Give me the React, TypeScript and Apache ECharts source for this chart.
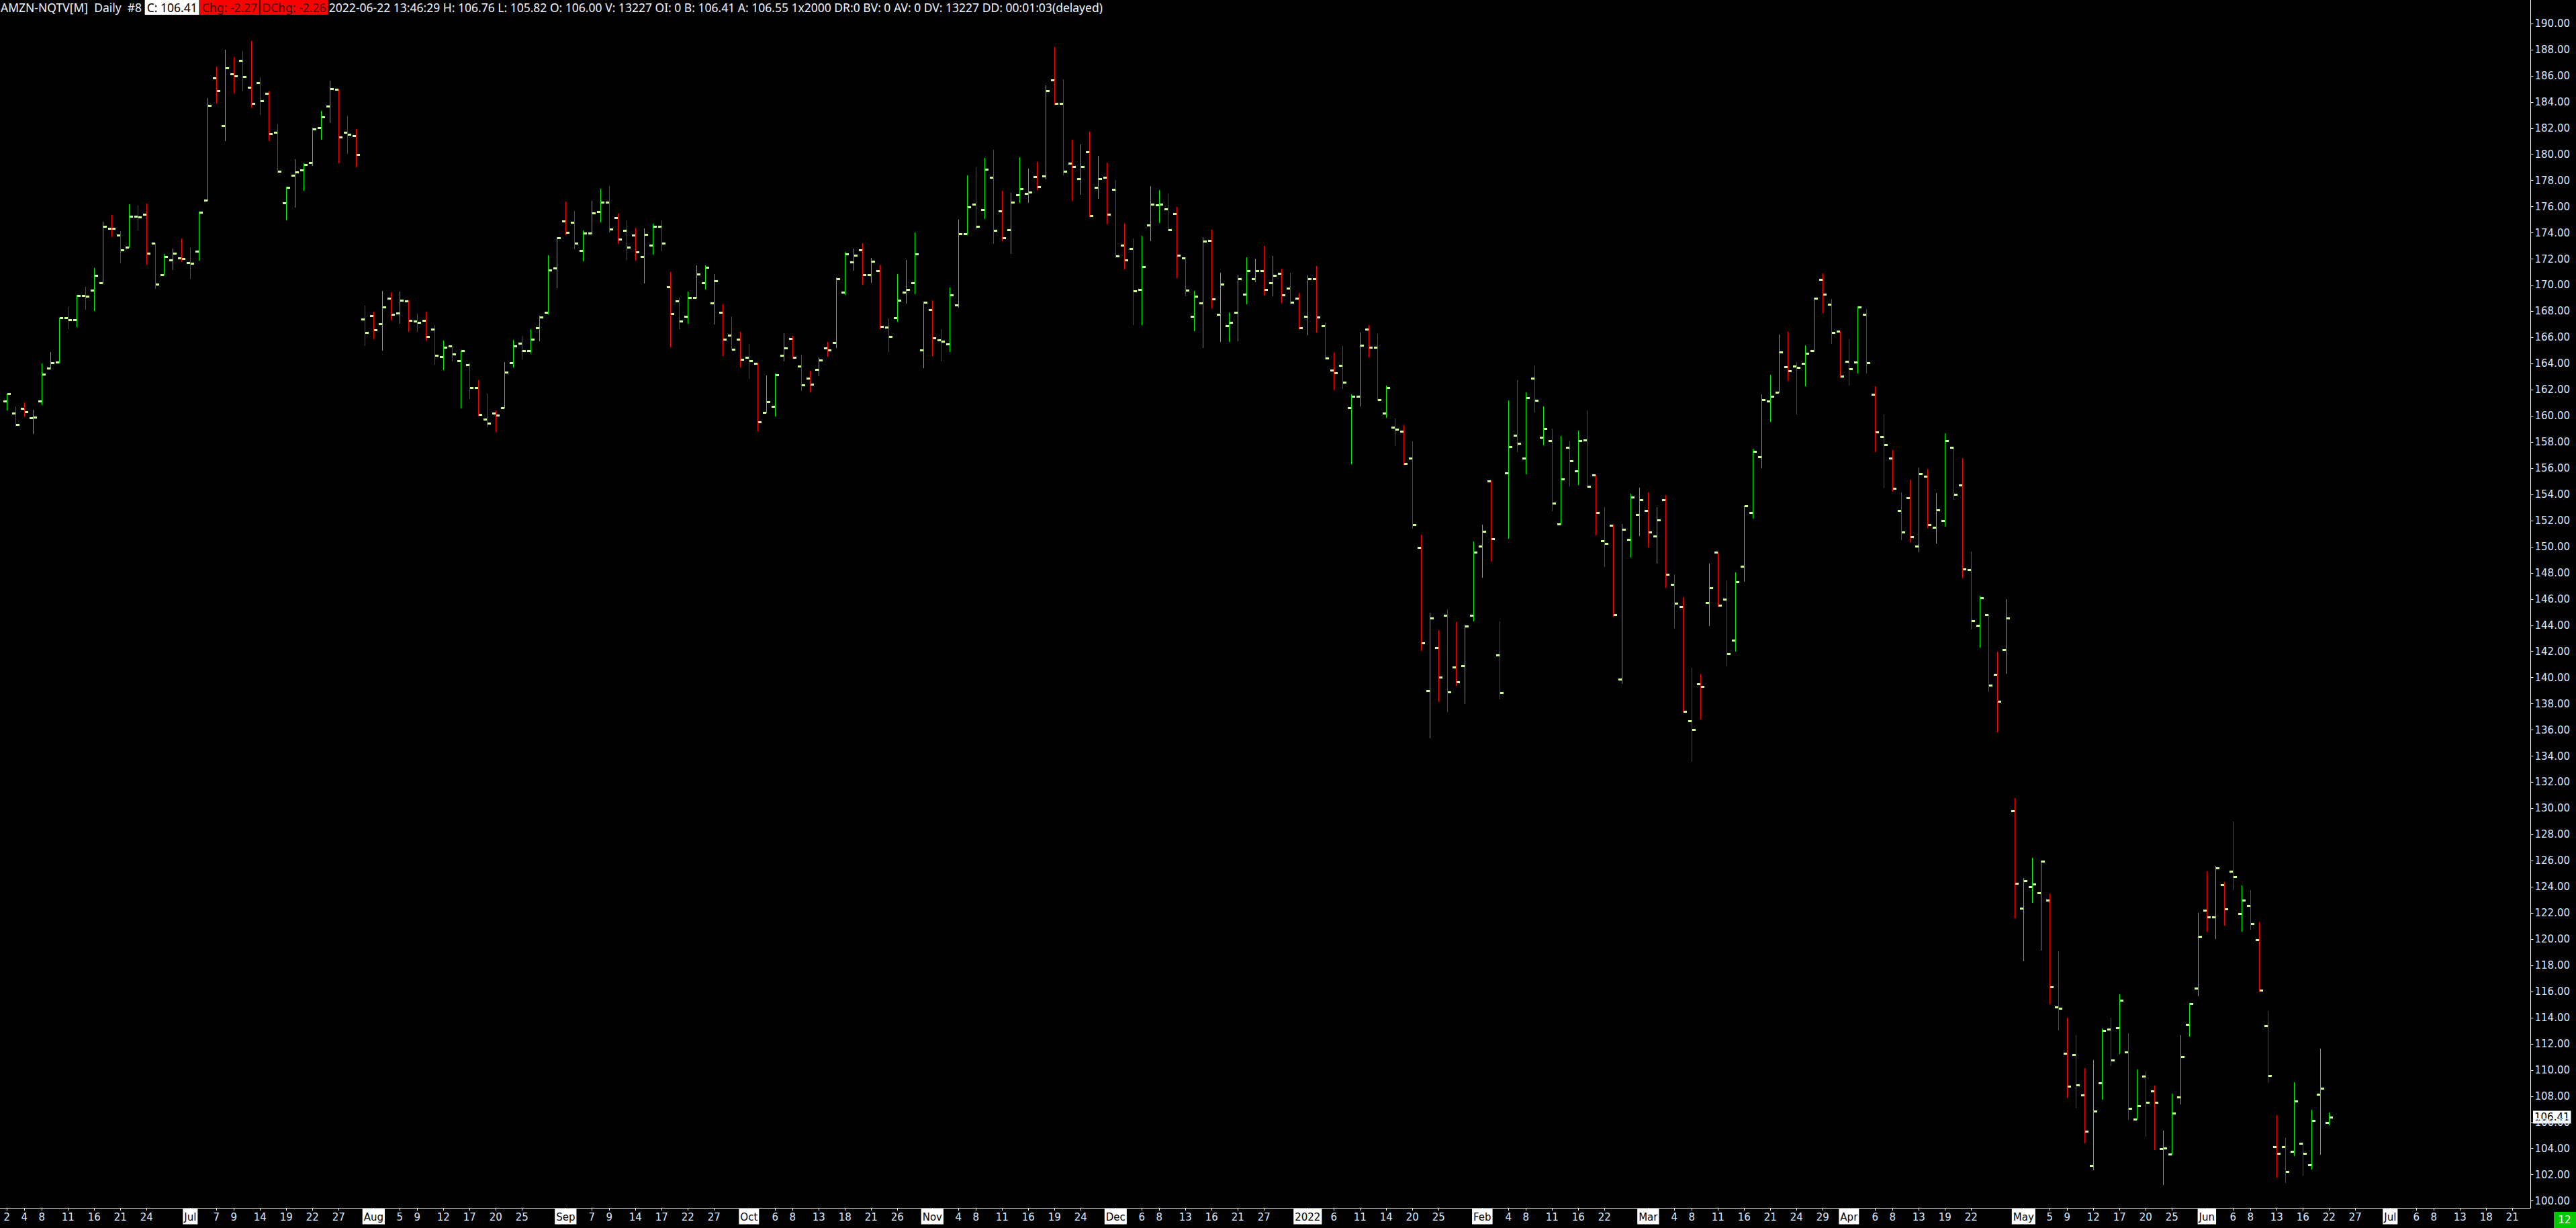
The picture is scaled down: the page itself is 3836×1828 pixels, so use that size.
import React, { useEffect, useRef } from "react";
import * as echarts from "echarts";

// ---- sessions (trading days shown on the axis, incl. future empty slots) ----
const sessionMonths = [
  "2021-06", "2021-07", "2021-08", "2021-09", "2021-10", "2021-11", "2021-12",
  "2022-01", "2022-02", "2022-03", "2022-04", "2022-05", "2022-06", "2022-07",
];
const sessionDays = [
  [2, 3, 4, 7, 8, 9, 10, 11, 14, 15, 16, 17, 18, 21, 22, 23, 24, 25, 28, 29, 30],
  [1, 2, 6, 7, 8, 9, 12, 13, 14, 15, 16, 19, 20, 21, 22, 23, 26, 27, 28, 29, 30],
  [2, 3, 4, 5, 6, 9, 10, 11, 12, 13, 16, 17, 18, 19, 20, 23, 24, 25, 26, 27, 30, 31],
  [1, 2, 3, 7, 8, 9, 10, 13, 14, 15, 16, 17, 20, 21, 22, 23, 24, 27, 28, 29, 30],
  [1, 4, 5, 6, 7, 8, 11, 12, 13, 14, 15, 18, 19, 20, 21, 22, 25, 26, 27, 28, 29],
  [1, 2, 3, 4, 5, 8, 9, 10, 11, 12, 15, 16, 17, 18, 19, 22, 23, 24, 26, 29, 30],
  [1, 2, 3, 6, 7, 8, 9, 10, 13, 14, 15, 16, 17, 20, 21, 22, 23, 27, 28, 29, 30, 31],
  [3, 4, 5, 6, 7, 10, 11, 12, 13, 14, 18, 19, 20, 21, 24, 25, 26, 27, 28, 31],
  [1, 2, 3, 4, 7, 8, 9, 10, 11, 14, 15, 16, 17, 18, 22, 23, 24, 25, 28],
  [1, 2, 3, 4, 7, 8, 9, 10, 11, 14, 15, 16, 17, 18, 21, 22, 23, 24, 25, 28, 29, 30, 31],
  [1, 4, 5, 6, 7, 8, 11, 12, 13, 14, 18, 19, 20, 21, 22, 25, 26, 27, 28, 29],
  [2, 3, 4, 5, 6, 9, 10, 11, 12, 13, 16, 17, 18, 19, 20, 23, 24, 25, 26, 27, 31],
  [1, 2, 3, 6, 7, 8, 9, 10, 13, 14, 15, 16, 17, 21, 22, 23, 24, 27, 28, 29, 30],
  [1, 4, 5, 6, 7, 8, 11, 12, 13, 14, 15, 18, 19, 20, 21, 22, 25],
];

// ---- OHLC values (daily bars, Jun 2 2021 .. Jun 22 2022) ----
const opens = [
  161.14, 160.22, 160.57, 159.87, 161.14, 163.65, 164.11, 167.5, 167.35, 169.19,
  169.6, 170.17, 174.34, 173.81, 172.88, 175.26, 175.4, 173.2, 170.78, 171.92,
  172.08, 171.72, 172.59, 176.48, 185.86, 182.17, 186.14, 187.2, 185.1, 185.47,
  184.68, 181.66, 176.28, 178.38, 178.83, 179.36, 182.03, 183.66, 184.96, 181.68,
  181.42, 167.42, 167.68, 167.05, 169.02, 167.85, 168.77, 167.23, 167.28, 166.63,
  164.51, 165.33, 164.2, 163.89, 162.15, 159.73, 160.2, 160.61, 164.05, 165.54,
  164.97, 166.72, 167.9, 171.29, 174.89, 174.78, 172.63, 173.96, 175.6, 176.32,
  175.14, 174.17, 173.81, 172.16, 173.04, 174.47, 169.85, 168.77, 167.59, 169.03,
  170.16, 168.62, 167.9, 166.16, 165.85, 164.46, 164.0, 160.25, 160.71, 164.61,
  165.9, 163.79, 162.87, 163.53, 165.18, 165.59, 169.44, 171.75, 172.68, 170.78,
  171.08, 166.77, 167.49, 169.44, 170.16, 165.02, 168.11, 165.79, 165.48, 168.5,
  173.92, 176.21, 175.79, 178.22, 175.69, 174.26, 176.9, 177.01, 178.29, 178.36,
  185.69, 183.88, 179.3, 178.15, 180.17, 177.46, 178.22, 177.32, 173.05, 172.81,
  169.68, 174.61, 176.15, 175.83, 175.48, 172.08, 167.63, 168.64, 173.4, 167.77,
  166.9, 167.91, 169.3, 170.48, 171.11, 170.2, 170.9, 169.75, 168.99, 167.6,
  170.48, 166.9, 163.5, 163.88, 160.62, 161.52, 166.63, 165.27, 160.2, 159.13,
  158.85, 156.8, 149.96, 138.99, 142.29, 144.75, 140.83, 140.93, 144.75, 150.03,
  155.05, 141.75, 155.62, 158.54, 156.76, 162.91, 158.39, 158.13, 151.76, 157.61,
  155.82, 158.18, 155.51, 150.47, 151.66, 139.86, 150.57, 152.44, 152.75, 150.83,
  153.6, 147.13, 145.45, 136.68, 139.5, 145.71, 149.61, 145.97, 142.84, 148.53,
  152.64, 156.86, 161.15, 161.83, 163.74, 163.79, 164.03, 165.01, 170.42, 168.55,
  166.46, 164.18, 164.13, 167.78, 161.67, 158.44, 156.76, 152.75, 153.73, 150.03,
  155.41, 151.5, 152.02, 157.61, 154.74, 148.27, 144.0, 144.8, 140.22, 142.16,
  129.83, 122.38, 124.02, 123.57, 123.0, 114.84, 111.29, 111.18, 108.07, 102.7,
  109.03, 113.1, 113.25, 111.39, 106.26, 109.54, 108.41, 104.0, 103.58, 107.94,
  113.5, 116.27, 122.23, 121.68, 124.19, 125.21, 121.98, 122.6, 119.97, 113.4,
  104.15, 104.15, 103.79, 104.41, 102.77, 108.16, 106.0,
];
const highs = [
  161.73, 160.75, 161.06, 160.45, 164.0, 164.91, 167.52, 168.35, 169.25, 169.88,
  171.33, 174.87, 175.38, 174.12, 176.2, 176.1, 176.24, 173.22, 172.39, 172.8,
  173.57, 172.86, 175.63, 184.31, 186.73, 188.0, 187.43, 187.9, 188.67, 185.9,
  184.82, 182.31, 177.54, 179.64, 179.32, 182.05, 183.33, 185.65, 184.96, 182.92,
  181.95, 168.45, 167.99, 169.58, 169.47, 169.51, 168.82, 167.8, 167.97, 166.94,
  165.76, 165.37, 165.01, 164.07, 162.73, 161.7, 160.42, 164.12, 165.81, 166.12,
  166.63, 167.66, 172.28, 173.65, 176.39, 175.67, 174.17, 176.44, 177.37, 177.57,
  175.47, 174.95, 174.39, 174.34, 174.68, 174.95, 171.0, 169.06, 169.51, 171.51,
  171.51, 170.84, 168.53, 167.61, 166.43, 165.5, 164.07, 163.09, 163.24, 166.32,
  166.12, 164.68, 163.45, 164.48, 165.66, 170.57, 172.52, 172.8, 173.21, 172.06,
  171.56, 167.46, 170.84, 171.92, 174.01, 168.76, 168.84, 166.63, 169.82, 175.0,
  178.4, 179.02, 179.72, 180.34, 177.22, 177.08, 179.79, 178.92, 179.4, 185.27,
  188.19, 185.72, 181.1, 180.76, 181.73, 179.89, 179.37, 178.05, 174.68, 173.57,
  173.78, 177.56, 177.25, 177.01, 175.97, 172.15, 169.54, 173.67, 174.23, 170.93,
  167.91, 170.79, 172.11, 172.01, 173.01, 172.22, 171.24, 170.93, 169.4, 170.72,
  171.45, 167.15, 164.82, 165.34, 161.63, 166.38, 166.94, 166.28, 162.32, 159.79,
  159.3, 158.05, 150.9, 144.96, 143.64, 145.2, 144.27, 144.02, 150.41, 151.71,
  155.07, 144.29, 161.21, 162.71, 161.83, 163.85, 160.74, 159.01, 158.46, 158.05,
  158.88, 160.43, 155.51, 153.03, 151.68, 151.76, 154.04, 154.5, 154.14, 153.03,
  153.94, 147.91, 146.15, 140.74, 140.28, 148.71, 149.61, 147.44, 148.04, 153.15,
  157.48, 161.65, 163.15, 166.23, 166.43, 164.13, 165.4, 169.05, 170.88, 168.97,
  166.48, 165.86, 168.4, 168.17, 162.27, 160.12, 157.4, 154.17, 155.13, 156.06,
  155.95, 154.09, 158.67, 157.64, 156.78, 149.62, 146.23, 144.8, 141.96, 145.97,
  130.77, 124.66, 126.21, 126.0, 123.49, 119.06, 113.99, 112.65, 110.14, 110.75,
  113.18, 113.99, 115.78, 112.84, 110.03, 109.88, 108.79, 105.35, 108.18, 112.65,
  115.15, 122.0, 125.17, 125.6, 124.38, 128.98, 124.11, 123.74, 121.27, 114.52,
  106.54, 104.83, 109.05, 104.51, 106.94, 111.63, 106.76,
];
const lows = [
  160.47, 159.24, 159.98, 158.65, 160.9, 163.6, 164.05, 166.7, 166.84, 168.2,
  168.05, 170.17, 173.71, 171.74, 172.88, 174.22, 171.61, 169.76, 170.78, 171.2,
  171.8, 170.53, 171.9, 176.48, 183.94, 181.07, 184.72, 184.86, 183.58, 183.07,
  181.07, 178.58, 174.98, 175.97, 177.24, 179.15, 181.15, 182.43, 179.36, 180.11,
  179.05, 165.38, 165.91, 165.03, 167.35, 167.11, 166.5, 166.5, 165.83, 163.96,
  163.57, 164.24, 160.62, 161.36, 160.04, 159.19, 158.84, 160.61, 163.77, 164.39,
  164.84, 165.78, 167.83, 169.83, 173.86, 172.8, 171.89, 173.96, 174.85, 174.08,
  173.22, 171.99, 171.94, 170.18, 172.4, 172.64, 165.32, 166.7, 167.11, 169.03,
  169.71, 167.06, 164.61, 165.07, 163.77, 162.87, 158.89, 160.25, 160.0, 164.22,
  164.41, 161.98, 161.87, 163.11, 164.6, 165.26, 169.32, 171.15, 170.09, 170.25,
  166.67, 164.96, 167.27, 168.65, 169.37, 163.72, 164.65, 164.23, 164.92, 168.33,
  173.85, 174.3, 175.1, 173.19, 173.4, 172.42, 176.35, 176.35, 177.32, 178.12,
  183.85, 178.47, 176.49, 176.94, 175.24, 176.66, 174.68, 172.15, 171.28, 167.01,
  167.01, 173.43, 174.82, 174.18, 170.58, 169.2, 166.52, 165.27, 168.26, 165.69,
  165.69, 165.76, 168.57, 170.28, 169.27, 169.2, 168.67, 168.6, 166.7, 166.24,
  166.42, 164.38, 162.01, 162.11, 156.38, 160.76, 164.51, 161.18, 159.89, 157.74,
  156.31, 151.45, 142.11, 135.41, 138.19, 137.39, 139.4, 138.01, 144.37, 147.7,
  148.94, 138.39, 150.65, 157.27, 155.59, 160.33, 157.79, 152.77, 151.76, 154.66,
  154.76, 154.55, 150.91, 148.53, 144.72, 139.55, 149.23, 150.86, 150.0, 148.76,
  146.92, 143.82, 137.4, 133.6, 136.84, 144.0, 145.5, 140.9, 142.06, 147.36,
  152.2, 156.06, 159.6, 161.8, 162.73, 160.15, 162.32, 164.93, 167.91, 165.55,
  163.0, 162.37, 163.28, 163.3, 157.3, 154.56, 154.25, 150.57, 150.39, 149.64,
  151.5, 150.29, 151.58, 153.65, 147.62, 143.74, 142.37, 138.98, 135.85, 140.33,
  121.66, 118.36, 122.81, 119.16, 115.06, 113.08, 107.92, 107.18, 104.45, 102.38,
  107.79, 110.35, 111.26, 106.22, 106.22, 104.98, 103.92, 101.26, 103.56, 107.41,
  112.59, 115.69, 120.63, 120.06, 121.06, 123.83, 120.63, 120.78, 116.05, 109.09,
  101.81, 101.41, 103.49, 101.96, 102.47, 103.58, 105.82,
];
const closes = [
  161.71, 159.33, 160.32, 159.9, 163.18, 164.07, 167.5, 167.35, 169.19, 169.13,
  170.72, 174.47, 174.32, 172.69, 175.26, 175.2, 172.43, 170.08, 172.18, 172.43,
  172.02, 171.67, 175.55, 183.76, 184.84, 186.61, 185.98, 185.94, 183.88, 184.07,
  181.58, 178.68, 177.46, 178.64, 179.24, 181.93, 182.84, 185.02, 181.33, 181.52,
  179.99, 166.38, 166.6, 168.35, 167.78, 168.82, 167.28, 167.15, 166.05, 164.61,
  165.23, 164.72, 164.97, 162.15, 160.09, 159.43, 160.04, 163.33, 165.33, 164.97,
  165.85, 167.54, 171.14, 173.6, 174.01, 173.19, 173.96, 175.5, 176.32, 174.27,
  173.5, 172.88, 172.52, 173.86, 174.47, 173.19, 167.8, 167.23, 169.03, 170.83,
  171.34, 170.31, 165.85, 165.07, 164.31, 164.2, 159.53, 161.07, 163.12, 165.18,
  164.46, 162.35, 162.4, 164.25, 165.02, 170.47, 172.37, 172.27, 170.78, 171.8,
  166.82, 166.05, 168.83, 169.65, 172.37, 168.67, 165.95, 165.69, 169.23, 173.92,
  176.0, 174.47, 178.85, 174.16, 173.64, 176.35, 177.35, 177.11, 177.53, 184.85,
  183.88, 178.71, 179.06, 179.06, 175.31, 178.12, 175.41, 172.22, 171.94, 169.58,
  171.42, 176.21, 176.21, 174.23, 172.29, 169.61, 169.16, 173.36, 168.95, 170.1,
  167.15, 170.51, 171.11, 171.11, 169.68, 170.76, 169.23, 168.67, 166.76, 170.48,
  167.56, 164.44, 163.29, 162.56, 161.52, 165.38, 165.27, 161.24, 162.15, 158.99,
  156.35, 151.7, 142.63, 144.54, 140.03, 138.92, 139.65, 143.95, 149.58, 151.19,
  150.62, 138.83, 157.66, 157.92, 161.41, 161.21, 159.01, 153.31, 155.2, 156.55,
  158.13, 154.63, 152.64, 150.24, 144.83, 151.35, 153.81, 153.57, 151.14, 152.07,
  147.91, 145.66, 137.43, 136.01, 139.3, 146.85, 145.55, 141.85, 147.34, 153.11,
  157.27, 161.26, 161.52, 164.91, 163.43, 163.69, 164.8, 169.02, 169.33, 166.36,
  163.02, 163.59, 168.35, 164.08, 158.77, 157.82, 154.48, 151.14, 150.78, 155.57,
  151.71, 152.8, 158.13, 154.01, 148.32, 144.36, 146.07, 139.4, 138.18, 144.57,
  124.25, 124.49, 124.23, 125.94, 116.38, 114.74, 108.77, 108.84, 105.32, 106.88,
  113.03, 110.78, 115.35, 107.07, 107.28, 107.54, 107.54, 104.05, 106.73, 111.03,
  115.1, 120.19, 121.68, 125.47, 122.34, 124.77, 123.0, 121.17, 116.12, 109.6,
  103.64, 102.26, 107.64, 103.64, 106.16, 108.62, 106.41,
];

// ---- x-axis tick labels (date -> text) ----
const xTickLabels: [string, string][] = [
  ["2021-06-02", "2"], ["2021-06-04", "4"], ["2021-06-08", "8"], ["2021-06-11", "11"], ["2021-06-16", "16"], ["2021-06-21", "21"], ["2021-06-24", "24"],
  ["2021-07-01", "Jul"], ["2021-07-07", "7"], ["2021-07-09", "9"], ["2021-07-14", "14"], ["2021-07-19", "19"], ["2021-07-22", "22"], ["2021-07-27", "27"],
  ["2021-08-02", "Aug"], ["2021-08-05", "5"], ["2021-08-09", "9"], ["2021-08-12", "12"], ["2021-08-17", "17"], ["2021-08-20", "20"], ["2021-08-25", "25"],
  ["2021-09-01", "Sep"], ["2021-09-07", "7"], ["2021-09-09", "9"], ["2021-09-14", "14"], ["2021-09-17", "17"], ["2021-09-22", "22"], ["2021-09-27", "27"],
  ["2021-10-01", "Oct"], ["2021-10-06", "6"], ["2021-10-08", "8"], ["2021-10-13", "13"], ["2021-10-18", "18"], ["2021-10-21", "21"], ["2021-10-26", "26"],
  ["2021-11-01", "Nov"], ["2021-11-04", "4"], ["2021-11-08", "8"], ["2021-11-11", "11"], ["2021-11-16", "16"], ["2021-11-19", "19"], ["2021-11-24", "24"],
  ["2021-12-01", "Dec"], ["2021-12-06", "6"], ["2021-12-08", "8"], ["2021-12-13", "13"], ["2021-12-16", "16"], ["2021-12-21", "21"], ["2021-12-27", "27"],
  ["2022-01-03", "2022"], ["2022-01-06", "6"], ["2022-01-11", "11"], ["2022-01-14", "14"], ["2022-01-20", "20"], ["2022-01-25", "25"],
  ["2022-02-01", "Feb"], ["2022-02-04", "4"], ["2022-02-08", "8"], ["2022-02-11", "11"], ["2022-02-16", "16"], ["2022-02-22", "22"],
  ["2022-03-01", "Mar"], ["2022-03-04", "4"], ["2022-03-08", "8"], ["2022-03-11", "11"], ["2022-03-16", "16"], ["2022-03-21", "21"], ["2022-03-24", "24"], ["2022-03-29", "29"],
  ["2022-04-01", "Apr"], ["2022-04-06", "6"], ["2022-04-08", "8"], ["2022-04-13", "13"], ["2022-04-19", "19"], ["2022-04-22", "22"],
  ["2022-05-02", "May"], ["2022-05-05", "5"], ["2022-05-09", "9"], ["2022-05-12", "12"], ["2022-05-17", "17"], ["2022-05-20", "20"], ["2022-05-25", "25"],
  ["2022-06-01", "Jun"], ["2022-06-06", "6"], ["2022-06-08", "8"], ["2022-06-13", "13"], ["2022-06-16", "16"], ["2022-06-22", "22"], ["2022-06-27", "27"],
  ["2022-07-01", "Jul"], ["2022-07-06", "6"], ["2022-07-08", "8"], ["2022-07-13", "13"], ["2022-07-18", "18"], ["2022-07-21", "21"],
];

// ---- y-axis ----
const yMin = 100;
const yMax = 190;
const yInterval = 2;

// ---- header ----
const symbolText = "AMZN-NQTV[M]  Daily  #8 ";
const closeText = "C: 106.41";
const chgText = "Chg: -2.27";
const dchgText = "DChg: -2.26";
const infoText =
  "2022-06-22 13:46:29 H: 106.76 L: 105.82 O: 106.00 V: 13227 OI: 0 B: 106.41 A: 106.55 1x2000 DR:0 BV: 0 AV: 0 DV: 13227 DD: 00:01:03(delayed)";
const lastPrice = 106.41;
const barCountText = "12";

const W = 3836;
const H = 1828;
const GREEN = "#00f000";
const RED = "#ff0000";
const TICK = "#ccff99";
const LABEL = "#dbe9ff";
const AXIS_FONT = "DejaVu Sans";
const HEAD_FONT = "Noto Sans";
const HEAD_SIZE = 17.5;
const AXIS_X = 3768.5; // y-axis line
const AXIS_Y = 1798.5; // x-axis line

export default function App() {
  const ref = useRef<HTMLDivElement>(null);

  useEffect(() => {
    const el = ref.current;
    if (!el) return;
    const chart = echarts.init(el, undefined, { renderer: "svg" });

    const categories = sessionMonths.flatMap((m, k) =>
      sessionDays[k].map((d) => `${m}-${String(d).padStart(2, "0")}`)
    );
    const labelMap = new Map<string, string>(xTickLabels);
    const data = opens.map((o, i) => [i, o, highs[i], lows[i], closes[i]]);

    const gridLeft = 3.83;
    const gridRight = 62.17;
    const gridTop = 35;
    const gridBottom = 40.4;

    chart.setOption({
      animation: false,
      backgroundColor: "#000",
      grid: { left: gridLeft, right: gridRight, top: gridTop, bottom: gridBottom, containLabel: false },
      xAxis: {
        type: "category",
        data: categories,
        boundaryGap: true,
        offset: 10.4,
        axisLine: { show: false },
        axisTick: {
          show: true,
          alignWithLabel: true,
          length: 4,
          interval: (idx: number, val: string) => labelMap.has(val),
          lineStyle: { color: "#ffffff", width: 1 },
        },
        axisLabel: {
          show: true,
          margin: 4,
          interval: (idx: number, val: string) => labelMap.has(val),
          hideOverlap: false,
          formatter: (val: string) => {
            const t = labelMap.get(val);
            if (!t) return "";
            return /^\d{1,2}$/.test(t) ? `{d|${t}}` : `{m|${t}}`;
          },
          rich: {
            d: { color: LABEL, fontFamily: AXIS_FONT, fontSize: 15, lineHeight: 18, padding: [5, 1, 3, 1] },
            m: {
              color: "#000",
              backgroundColor: "#ffffff",
              fontFamily: AXIS_FONT,
              fontSize: 15,
              lineHeight: 18,
              padding: [5, 2, 3, 2],
            },
          },
        },
        splitLine: { show: false },
      },
      yAxis: {
        type: "value",
        position: "right",
        min: yMin,
        max: yMax,
        interval: yInterval,
        offset: -(W - gridRight - AXIS_X),
        axisLine: { show: false },
        axisTick: { show: true, length: 4, lineStyle: { color: "#ffffff" } },
        axisLabel: {
          margin: 6,
          color: LABEL,
          fontFamily: AXIS_FONT,
          fontSize: 15,
          formatter: (v: number) => v.toFixed(2),
        },
        splitLine: { show: false },
      },
      series: [
        {
          type: "custom",
          data,
          encode: { x: 0, y: [1, 2, 3, 4] },
          renderItem: (params: any, api: any) => {
            const i = api.value(0);
            const o = api.value(1);
            const h = api.value(2);
            const l = api.value(3);
            const c = api.value(4);
            const pH = api.coord([i, h]);
            const pL = api.coord([i, l]);
            const pO = api.coord([i, o]);
            const pC = api.coord([i, c]);
            const x = Math.round(pH[0]) + 0.5;
            const color = c >= o ? GREEN : RED;
            return {
              type: "group",
              children: [
                {
                  type: "line",
                  shape: { x1: x, y1: Math.round(pH[1]), x2: x, y2: Math.round(pL[1]) + 1 },
                  style: { stroke: color, lineWidth: 1 },
                },
                {
                  type: "rect",
                  shape: { x: x - 5.5, y: Math.round(pO[1]) - 1, width: 5, height: 3 },
                  style: { fill: TICK },
                },
                {
                  type: "rect",
                  shape: { x: x + 0.5, y: Math.round(pC[1]) - 1, width: 5, height: 3 },
                  style: { fill: TICK },
                },
              ],
            };
          },
        },
      ],
    });

    const yLast = chart.convertToPixel({ yAxisIndex: 0 }, lastPrice) as number;

    chart.setOption({
      graphic: [
        {
          type: "line",
          shape: { x1: 0, y1: AXIS_Y, x2: AXIS_X, y2: AXIS_Y },
          style: { stroke: "#ffffff", lineWidth: 1 },
        },
        {
          type: "line",
          shape: { x1: AXIS_X, y1: 0, x2: AXIS_X, y2: AXIS_Y },
          style: { stroke: "#ffffff", lineWidth: 1 },
        },
        {
          type: "text",
          x: 1,
          y: 1,
          style: {
            text:
              `{t|${symbolText}}{w|${closeText}}{g| }{r|${chgText}}{g| }{r|${dchgText}}{g| }{t|${infoText}}`,
            verticalAlign: "top",
            rich: {
              t: { fill: "#f0f4ff", fontFamily: HEAD_FONT, fontSize: HEAD_SIZE, lineHeight: 20, padding: [2, 0, 2, 0] },
              w: {
                fill: "#000000",
                backgroundColor: "#ffffff",
                fontFamily: HEAD_FONT,
                fontSize: HEAD_SIZE,
                lineHeight: 20,
                padding: [2, 3, 2, 3],
              },
              r: {
                fill: "#3a0000",
                backgroundColor: "#ff0000",
                fontFamily: HEAD_FONT,
                fontSize: HEAD_SIZE,
                lineHeight: 20,
                padding: [2, 3, 2, 3],
              },
              g: { fontFamily: HEAD_FONT, fontSize: 5, lineHeight: 20, fill: "#000" },
            },
          },
        },
        {
          type: "text",
          x: 3772,
          y: Math.round(yLast),
          style: {
            text: lastPrice.toFixed(2),
            fill: "#000000",
            backgroundColor: "#ffffff",
            fontFamily: AXIS_FONT,
            fontSize: 15,
            verticalAlign: "middle",
            padding: [2, 2, 2, 2],
          },
        },
        {
          type: "rect",
          shape: { x: 3803, y: 1804, width: 33, height: 24 },
          style: { fill: "#00c800" },
        },
        {
          type: "text",
          x: 3819,
          y: 1816,
          style: {
            text: barCountText,
            fill: "#ffffff",
            fontFamily: AXIS_FONT,
            fontSize: 15,
            align: "center",
            verticalAlign: "middle",
          },
        },
      ],
    });

    return () => {
      chart.dispose();
    };
  }, []);

  return (
    <div
      ref={ref}
      style={{ position: "absolute", left: 0, top: 0, width: W, height: H, background: "#000" }}
    />
  );
}
